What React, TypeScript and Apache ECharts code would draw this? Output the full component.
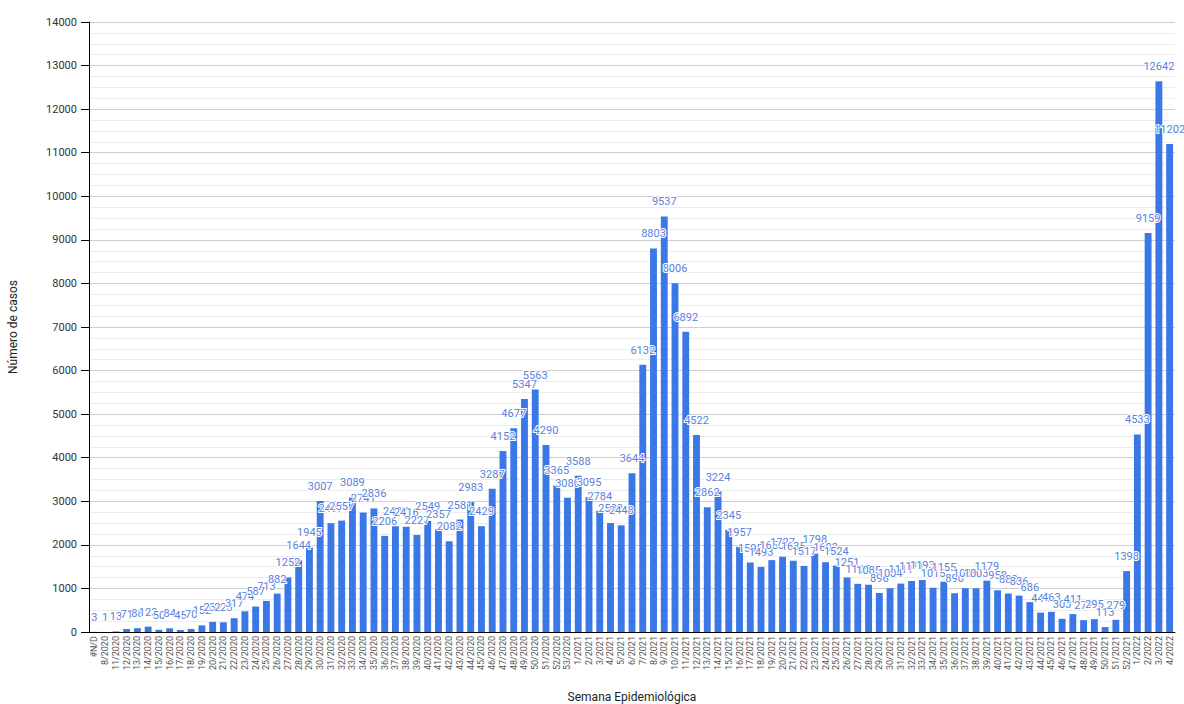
import React, { useEffect, useRef } from "react";
import * as echarts from "echarts";

const categories: string[] = [
  "#N/D", "8/2020",
  "11/2020", "12/2020", "13/2020", "14/2020", "15/2020", "16/2020", "17/2020", "18/2020", "19/2020", "20/2020",
  "21/2020", "22/2020", "23/2020", "24/2020", "25/2020", "26/2020", "27/2020", "28/2020", "29/2020", "30/2020",
  "31/2020", "32/2020", "33/2020", "34/2020", "35/2020", "36/2020", "37/2020", "38/2020", "39/2020", "40/2020",
  "41/2020", "42/2020", "43/2020", "44/2020", "45/2020", "46/2020", "47/2020", "48/2020", "49/2020", "50/2020",
  "51/2020", "52/2020", "53/2020",
  "1/2021", "2/2021", "3/2021", "4/2021", "5/2021", "6/2021", "7/2021", "8/2021", "9/2021", "10/2021",
  "11/2021", "12/2021", "13/2021", "14/2021", "15/2021", "16/2021", "17/2021", "18/2021", "19/2021", "20/2021",
  "21/2021", "22/2021", "23/2021", "24/2021", "25/2021", "26/2021", "27/2021", "28/2021", "29/2021", "30/2021",
  "31/2021", "32/2021", "33/2021", "34/2021", "35/2021", "36/2021", "37/2021", "38/2021", "39/2021", "40/2021",
  "41/2021", "42/2021", "43/2021", "44/2021", "45/2021", "46/2021", "47/2021", "48/2021", "49/2021", "50/2021",
  "51/2021", "52/2021",
  "1/2022", "2/2022", "3/2022", "4/2022",
];

const casos: number[] = [
  3, 1,
  13, 71, 88, 123, 50, 84, 45, 70, 152, 232,
  223, 317, 474, 587, 713, 882, 1252, 1644, 1945, 3007,
  2497, 2557, 3089, 2741, 2836, 2206, 2427, 2416, 2227, 2549,
  2357, 2082, 2581, 2983, 2429, 3287, 4152, 4677, 5347, 5563,
  4290, 3365, 3080,
  3588, 3095, 2784, 2502, 2448, 3644, 6132, 8803, 9537, 8006,
  6892, 4522, 2862, 3224, 2345, 1957, 1595, 1493, 1650, 1727,
  1635, 1517, 1798, 1602, 1524, 1251, 1105, 1085, 896, 1004,
  1111, 1171, 1193, 1015, 1155, 890, 1005, 1003, 1179, 958,
  883, 836, 686, 445, 463, 303, 411, 272, 295, 113,
  279, 1398,
  4533, 9159, 12642, 11202,
];

const yAxisTitle = "Número de casos";
const xAxisTitle = "Semana Epidemiológica";

export default function App() {
  const ref = useRef<HTMLDivElement>(null);
  useEffect(() => {
    document.body.style.margin = "0";
    const chart = echarts.init(ref.current!, null, { renderer: "svg" });
    chart.setOption({
      animation: false,
      backgroundColor: "#ffffff",
      textStyle: { fontFamily: "Roboto, Arial, sans-serif" },
      grid: { left: 89, right: 9, top: 22, bottom: 72, containLabel: false, outerBoundsMode: "none" },
      xAxis: {
        type: "category",
        data: categories,
        name: xAxisTitle,
        nameLocation: "middle",
        nameGap: 59,
        nameTextStyle: { fontSize: 12, color: "#222" },
        axisLine: { show: true, lineStyle: { color: "#000", width: 1 } },
        axisTick: { show: false },
        axisLabel: { interval: 0, rotate: 90, fontSize: 9, color: "#555", margin: 4 },
        splitLine: { show: false },
      },
      yAxis: {
        type: "value",
        min: 0,
        max: 14000,
        interval: 1000,
        name: yAxisTitle,
        nameLocation: "middle",
        nameGap: 70,
        nameTextStyle: { fontSize: 12, color: "#222" },
        axisLine: { show: true, lineStyle: { color: "#000", width: 1 } },
        axisTick: { show: true, length: 8, lineStyle: { color: "#000" } },
        axisLabel: { fontSize: 11, color: "#333", margin: 12, formatter: (v: number) => String(v) },
        splitLine: { show: true, lineStyle: { color: "#cfcfcf", width: 1 } },
        minorTick: { show: false, splitNumber: 4 },
        minorSplitLine: { show: true, lineStyle: { color: "#ececec", width: 1 } },
      },
      series: [
        {
          type: "bar",
          data: casos,
          barWidth: "64%",
          itemStyle: { color: "#3b78e7" },
          label: {
            show: true,
            position: "top",
            distance: 9,
            fontSize: 11,
            color: "#5a7fdc",
            textBorderColor: "#ffffff",
            textBorderWidth: 2,
          },
        },
      ],
    });
    return () => chart.dispose();
  }, []);
  return (
    <div
      ref={ref}
      style={{ position: "fixed", left: 0, top: 0, width: 1184, height: 704 }}
    />
  );
}
